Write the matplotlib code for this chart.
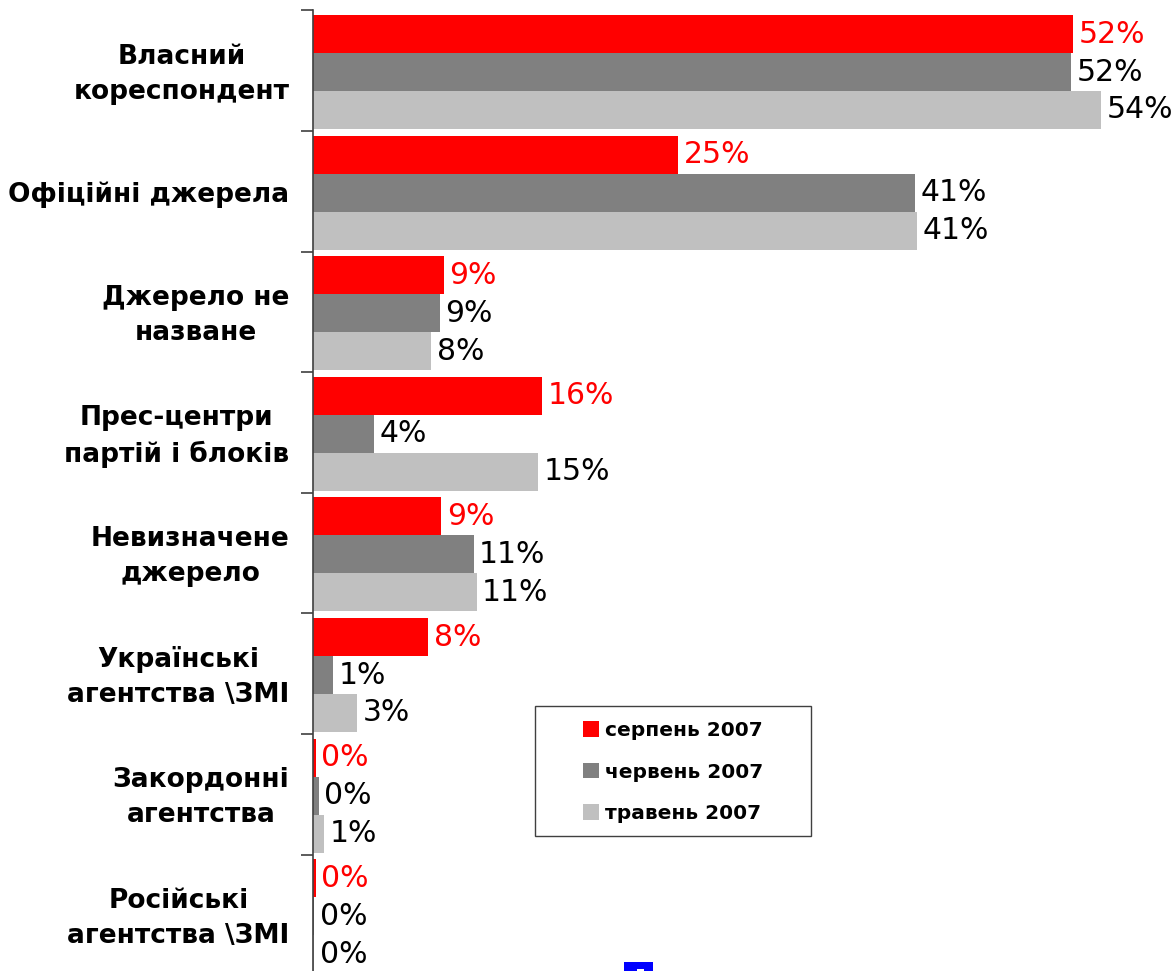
import matplotlib
matplotlib.use("Agg")
import matplotlib.pyplot as plt
import numpy as np
from matplotlib.patches import Patch, Rectangle

categories = [
    "Власний\nкореспондент",
    "Офіційні джерела",
    "Джерело не\nназване",
    "Прес-центри\nпартій і блоків",
    "Невизначене\nджерело",
    "Українські\nагентства \\ЗМІ",
    "Закордонні\nагентства",
    "Російські\nагентства \\ЗМІ",
]
series_names = ["серпень 2007", "червень 2007", "травень 2007"]
serpen = [52.05, 25.0, 8.97, 15.7, 8.8, 7.9, 0.2, 0.2]
cherven = [51.9, 41.2, 8.7, 4.2, 11.0, 1.37, 0.4, 0.1]
traven = [54.0, 41.4, 8.1, 15.4, 11.2, 3.0, 0.75, 0.1]
colors = ["#FF0000", "#808080", "#C0C0C0"]
label_colors = ["#FF0000", "#000000", "#000000"]

W, H = 1174, 971
fig = plt.figure(figsize=(W / 100, H / 100), dpi=100)
ax_left, ax_top, ax_bottom = 313, 10.5, 975.3
ax = fig.add_axes([ax_left / W, 1 - ax_bottom / H, (W - ax_left) / W, (ax_bottom - ax_top) / H])

n = len(categories)
y = np.arange(n)
bh = 0.315
data = [serpen, cherven, traven]
for i, (vals, c, lc) in enumerate(zip(data, colors, label_colors)):
    bars = ax.barh(y + (i - 1) * bh + 0.01, vals, height=bh, color=c, edgecolor="none")
    ax.bar_label(bars, labels=[f"{v:.0f}%" for v in vals], padding=4,
                 color=lc, fontsize=21.5, family="DejaVu Sans")

ax.set_xlim(0, (W - ax_left) / 14.6)
ax.set_ylim(n - 0.5, -0.5)
ax.set_xticks([])
label_pos = [yy - (0.035 if "\n" in c else 0.0) for yy, c in zip(y, categories)]
ax.set_yticks(label_pos)
ax.set_yticklabels(categories, fontsize=19, fontweight="bold", family="DejaVu Sans", linespacing=1.45)
for lbl in ax.get_yticklabels():
    lbl.set_multialignment("center")
ax.tick_params(axis="y", which="major", length=0, pad=17)
ax.set_yticks(np.arange(-0.5, n, 1.0), minor=True)
ax.tick_params(axis="y", which="minor", length=9, width=1.2, color="#404040", direction="out")
for s in ["top", "right", "bottom"]:
    ax.spines[s].set_visible(False)
ax.spines["left"].set_color("#404040")
ax.spines["left"].set_linewidth(1.2)

# legend box
bx0, by0, bx1, by1 = 535, 706, 811, 836
fig.patches.append(Rectangle((bx0 / W, 1 - by1 / H), (bx1 - bx0) / W, (by1 - by0) / H,
                             transform=fig.transFigure, fill=True, facecolor="white",
                             edgecolor="#404040", linewidth=1.0, zorder=5))
handles = [Patch(facecolor=c, edgecolor="none") for c in colors]
leg = fig.legend(handles, series_names, loc="center",
                 bbox_to_anchor=((bx0 + bx1) / 2 / W, 1 - (by0 + by1 + 2) / 2 / H),
                 frameon=False, prop={"family": "DejaVu Sans", "weight": "bold", "size": 14.5},
                 handlelength=0.8, handleheight=0.8, handletextpad=0.3, labelspacing=1.12)
leg.set_zorder(6)

# small blue mark at bottom
fig.patches.append(Rectangle((624 / W, 0), 29 / W, 9 / H, transform=fig.transFigure,
                             facecolor="#0000FF", edgecolor="none", zorder=5))
fig.patches.append(Rectangle((637 / W, 0), 7 / W, 2 / H, transform=fig.transFigure,
                             facecolor="white", edgecolor="none", zorder=6))

fig.savefig("out.png", dpi=100)
